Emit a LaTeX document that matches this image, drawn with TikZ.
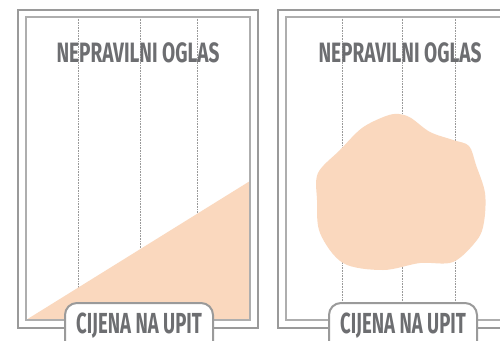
\documentclass[tikz,border=0pt]{standalone}
\usepackage{fontspec}
\newfontfamily\adfont[FakeStretch=0.68]{Fira Sans}
\newfontfamily\pricefont[FakeStretch=0.64]{Fira Sans}
\definecolor{adgray}{HTML}{6D6E71}
\definecolor{framegray}{HTML}{9A9A9A}
\definecolor{peach}{HTML}{FAD8BE}
\tikzset{
  outerframe/.style={draw=framegray, line width=1.4pt},
  innerframe/.style={draw=framegray!80, line width=1.2pt},
  column/.style={draw=gray!80, densely dotted, line width=0.6pt},
  adtitle/.style={text=adgray, font=\adfont\bfseries\fontsize{28}{28}\selectfont},
  pricebox/.style={draw=framegray, line width=2pt, fill=white, rounded corners=12pt,
    anchor=north, minimum width=148pt, inner xsep=0pt, inner ysep=13pt,
    text height=17pt, text depth=20pt, text=adgray,
    font=\pricefont\bfseries\fontsize{29}{29}\selectfont}
}
\begin{document}
\begin{tikzpicture}[x=1pt,y=-1pt]
\useasboundingbox (0,0) rectangle (500,340);
\clip (0,0) rectangle (500,340);
\fill[white] (0,0) rectangle (500,340);

% left ad
\draw[outerframe] (18,10) rectangle (258,328);
\foreach \x in {78,140,197}
  \draw[column] (\x,17) -- (\x,300);
\fill[peach] (26,320) -- (250,181) -- (250,320) -- cycle;
\draw[innerframe] (26,17) rectangle (250,320);
\node[adtitle] (titleL) at (138,53) {NEPRAVILNI OGLAS};
\node[pricebox] (priceL) at (139,302) {CIJENA NA UPIT};

% right ad
\draw[outerframe] (278,10) rectangle (518,328);
\foreach \x in {342,402,455}
  \draw[column] (\x,17) -- (\x,302);
\fill[peach] plot[smooth cycle, tension=0.55] coordinates {
  (386,116) (399,114) (411,118) (430,132) (453,140) (469,146) (476,165)
  (485,193) (484,222) (477,240) (453,262) (420,263) (383,270) (343,263)
  (320,233) (317,200) (318,173) (340,150) (362,128)};
\draw[innerframe] (286,17) rectangle (510,320);
\node[adtitle] (titleR) at (400,53) {NEPRAVILNI OGLAS};
\node[pricebox] (priceR) at (403,302) {CIJENA NA UPIT};
\end{tikzpicture}
\end{document}
